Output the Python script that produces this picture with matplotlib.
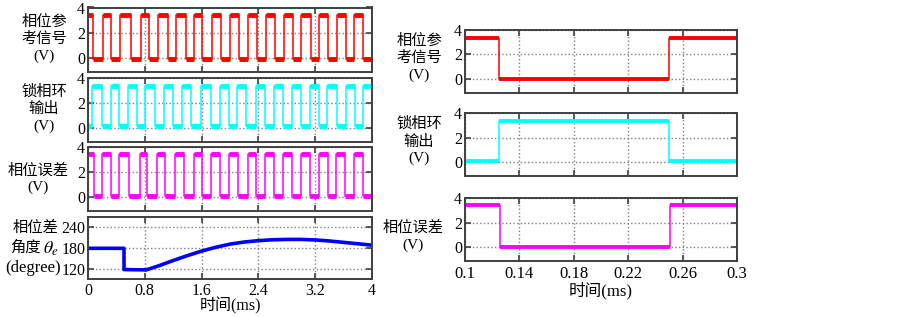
import matplotlib
matplotlib.use('Agg')
import matplotlib.pyplot as plt

plt.rcParams['font.family'] = ['Liberation Serif', 'Noto Sans CJK SC']
plt.rcParams['mathtext.fontset'] = 'stix'
plt.rcParams['axes.unicode_minus'] = False

# ---- left column, 0-4 ms (edge times in ms) ----
ref_edges_left = [0.070, 0.211, 0.319, 0.446, 0.601, 0.742, 0.854, 0.986, 1.127, 1.244,
                  1.376, 1.493, 1.606, 1.746, 1.869, 1.995, 2.127, 2.254, 2.385, 2.502,
                  2.629, 2.761, 2.887, 3.005, 3.146, 3.254, 3.380, 3.512, 3.629, 3.746, 3.873]
pll_edges_left = [0.056, 0.197, 0.319, 0.437, 0.563, 0.690, 0.808, 0.948, 1.066, 1.197,
                  1.324, 1.455, 1.596, 1.728, 1.854, 1.981, 2.103, 2.230, 2.362, 2.488,
                  2.615, 2.746, 2.873, 3.005, 3.131, 3.254, 3.371, 3.507, 3.629, 3.756, 3.873]
err_edges_left = [0.080, 0.202, 0.319, 0.437, 0.573, 0.737, 0.831, 0.977, 1.080, 1.230,
                  1.357, 1.488, 1.606, 1.737, 1.864, 1.991, 2.117, 2.249, 2.371, 2.493,
                  2.620, 2.751, 2.873, 3.000, 3.127, 3.254, 3.376, 3.493, 3.624, 3.742, 3.869]

# phase difference angle (degree)
theta_t = [0.0, 0.507, 0.507, 0.82, 1.0, 1.2, 1.4, 1.6, 1.8, 2.0, 2.2, 2.4, 2.6, 2.8,
           3.0, 3.2, 3.4, 3.6, 3.8, 4.0]
theta_v = [180, 180, 119, 118, 130, 145, 159, 172, 183, 192, 198, 202, 204.5, 205.5,
           205.5, 204, 201, 197, 193, 189]

# ---- right column, 0.1-0.3 ms ----
ref_edges_right = [0.1253, 0.2500]
pll_edges_right = [0.1253, 0.2500]
err_edges_right = [0.1258, 0.2510]

# levels (high, low)
ref_levels = (3.42, -0.05)
pll_levels = (3.38, 0.15)
err_levels = (3.50, 0.10)
ref_levels_r = (3.35, 0.0)
pll_levels_r = (3.32, 0.12)
err_levels_r = (3.42, 0.05)

left_labels = ['相位参\n考信号\n(V)', '锁相环\n输出\n(V)', '相位误差\n(V)']
right_labels = ['相位参\n考信号\n(V)', '锁相环\n输出\n(V)', '相位误差\n(V)']

left_xticks = [0, 0.8, 1.6, 2.4, 3.2, 4]
left_xticklabels = ['0', '0.8', '1.6', '2.4', '3.2', '4']
right_xticks = [0.1, 0.14, 0.18, 0.22, 0.26, 0.3]
right_xticklabels = ['0.1', '0.14', '0.18', '0.22', '0.26', '0.3']

W, H = 902, 317
fig = plt.figure(figsize=(W / 100, H / 100), dpi=100)


def px_axes(left, top, right, bottom):
    return fig.add_axes([left / W, 1 - bottom / H, (right - left) / W, (bottom - top) / H])


def style(ax):
    ax.tick_params(direction='in', top=True, right=True, length=4, width=1.2,
                   color='#404040')
    ax.tick_params(axis='y', pad=2, labelsize=11.5)
    ax.tick_params(axis='x', pad=3.5, labelsize=12)
    ax.grid(True, linestyle=':', color='#808080', linewidth=1)
    for s in ax.spines.values():
        s.set_linewidth(1.4)
        s.set_color('#404040')


def square(ax, edges, levels, start_high, t0, t1, color, band):
    bounds = [t0] + list(edges) + [t1]
    xs, ys = [], []
    high = start_high
    for a, b in zip(bounds[:-1], bounds[1:]):
        lv = levels[0] if high else levels[1]
        xs += [a, b]
        ys += [lv, lv]
        ax.plot([a, b], [lv, lv], color=color, lw=band, solid_capstyle='butt')
        high = not high
    ax.plot(xs, ys, color=color, lw=1.1)


def ptext(x, y, s, size=11):
    fig.text(x / W, 1 - y / H, s, ha='center', va='center', ma='center',
             fontsize=size, linespacing=1.3)


# left column
left_boxes = [(88, 7.5, 372, 72), (88, 78.3, 372, 141.7), (88, 147.3, 372, 210.7)]
left_data = [(ref_edges_left, ref_levels, True, 'red'),
             (pll_edges_left, pll_levels, False, 'cyan'),
             (err_edges_left, err_levels, True, 'magenta')]
label_y_left = [38.5, 108.5, 179]
label_x_left = [44, 44, 38]
for box, (edges, lv, st, c), lab, ly, lx in zip(left_boxes, left_data, left_labels,
                                                label_y_left, label_x_left):
    ax = px_axes(*box)
    square(ax, edges, lv, st, 0, 4, c, 3.5)
    ax.set_xlim(0, 4)
    ax.set_ylim(-1.1, 4)
    ax.set_yticks([0, 2, 4])
    ax.set_xticks(left_xticks)
    ax.set_xticklabels([])
    style(ax)
    ptext(lx, ly, lab)

ax = px_axes(88, 217.3, 372, 279.3)
ax.plot(theta_t, theta_v, color='#0000ff', lw=2.6)
ax.set_xlim(0, 4)
ax.set_ylim(91, 269)
ax.set_yticks([120, 180, 240])
ax.set_xticks(left_xticks)
ax.set_xticklabels(left_xticklabels)
style(ax)
ax.tick_params(axis='x', pad=2.5, labelsize=11.5)
ax.set_xlabel('时间(ms)', fontsize=11.5, labelpad=-1)
ptext(35, 228, '相位差')
ptext(25, 248, '角度')
ptext(51, 248.5, '$\\theta_e$', size=13)
ptext(33, 268, '(degree)', size=12)

# right column
right_boxes = [(465, 29.5, 737, 92.7), (465, 112.7, 737, 176), (465, 198.3, 737, 261)]
right_data = [(ref_edges_right, ref_levels_r, True, 'red'),
              (pll_edges_right, pll_levels_r, False, 'cyan'),
              (err_edges_right, err_levels_r, True, 'magenta')]
label_y_right = [57.5, 141, 236.5]
label_x_right = [419, 419, 413]
for i, (box, (edges, lv, st, c), lab, ly, lx) in enumerate(
        zip(right_boxes, right_data, right_labels, label_y_right, label_x_right)):
    ax = px_axes(*box)
    square(ax, edges, lv, st, 0.1, 0.3, c, 2.8)
    ax.set_xlim(0.1, 0.3)
    ax.set_ylim(-1.1, 4)
    ax.set_yticks([0, 2, 4])
    ax.set_xticks(right_xticks)
    if i == 2:
        ax.set_xticklabels(right_xticklabels)
        ax.set_xlabel('时间(ms)', fontsize=12, labelpad=0)
    else:
        ax.set_xticklabels([])
    style(ax)
    ptext(lx, ly, lab)

fig.savefig('out.png', dpi=100)
